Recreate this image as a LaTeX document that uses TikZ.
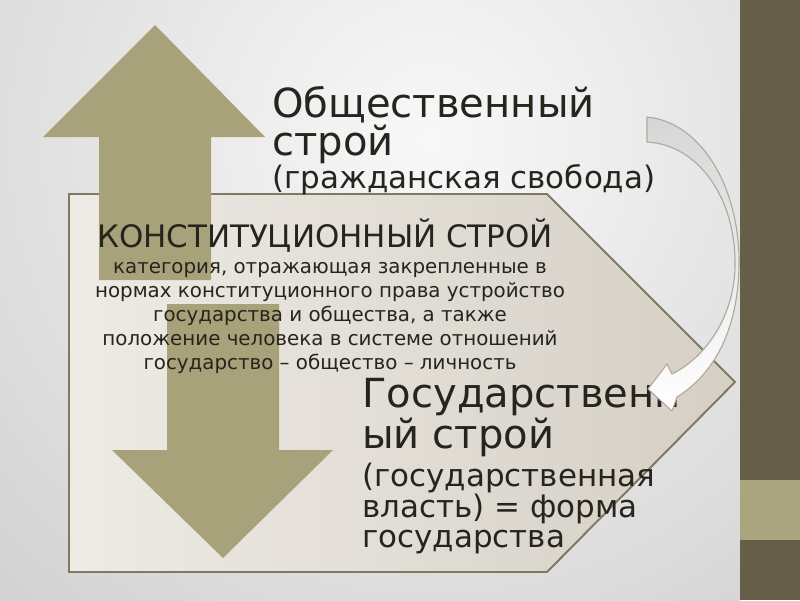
\documentclass[tikz,border=0pt]{standalone}
\usepackage{fontspec}
\setmainfont{DejaVu Sans}
\usetikzlibrary{positioning,calc}
\definecolor{bgIn}{HTML}{F8F8F8}
\definecolor{bgOut}{HTML}{CFCFCF}
\definecolor{stripDark}{HTML}{665E48}
\definecolor{stripLight}{HTML}{A9A57F}
\definecolor{arrowFill}{HTML}{A8A27A}
\definecolor{panelL}{HTML}{EEEBE5}
\definecolor{panelR}{HTML}{D5CFC5}
\definecolor{panelLine}{HTML}{7E7A62}
\definecolor{textDark}{HTML}{26241C}
\definecolor{curveLine}{HTML}{B2A899}
\definecolor{curveTop}{HTML}{D6D6D6}
\tikzstyle{bigtxt}   = [font=\fontsize{28.5}{28.5}\selectfont, text=textDark, inner sep=0pt, anchor=base west]
\tikzstyle{subtxt}   = [font=\fontsize{22}{22}\selectfont, text=textDark, inner sep=0pt, anchor=base west]
\tikzstyle{titletxt} = [font=\fontsize{22}{22}\selectfont, text=textDark, inner sep=0pt, anchor=base]
\tikzstyle{bodytxt}  = [font=\fontsize{14.1}{14.1}\selectfont, text=textDark, inner sep=0pt, anchor=base]
\begin{document}
\begin{tikzpicture}[x=0.025cm, y=-0.025cm,
		blockarrow/.style={fill=arrowFill},
		panel/.style={draw=panelLine, line width=1.4pt, left color=panelL, right color=panelR},
		curvedarrow/.style={draw=curveLine, line width=0.8pt, line join=round, top color=curveTop, bottom color=white}]

	\useasboundingbox (0,0) rectangle (800,600);
	% background and side strip
	\begin{scope}
		\clip (0,0) rectangle (740,600);
		\shade[inner color=bgIn, outer color=bgOut] (430,140) circle[radius=17cm];
	\end{scope}
	\fill[stripDark] (740,0) rectangle (800,600);
	\fill[stripLight] (740,480) rectangle (800,540);

	% panel
	\draw[panel] (69,194) -- (547,194) -- (735,382) -- (547,572) -- (69,572) -- cycle;

	% up and down arrows
	\fill[blockarrow] (155,25) -- (265,137) -- (211,137) -- (211,280) -- (99,280) -- (99,137) -- (43,137) -- cycle;
	\fill[blockarrow] (167,304) -- (279,304) -- (279,450) -- (333,450) -- (223,558) -- (112,450) -- (167,450) -- cycle;

	% texts
	\node[bigtxt] (soc1) at (272,117) {Общественный};
	\node[bigtxt] (soc2) at (272,155) {строй};
	\node[subtxt] (soc3) at (272,188) {(гражданская свобода)};

	\node[titletxt] (title) at (325,247) {КОНСТИТУЦИОННЫЙ СТРОЙ};
	\foreach \line [count=\i] in {{категория, отражающая закрепленные в},
			{нормах конституционного права устройство},
			{государства и общества, а также},
			{положение человека в системе отношений},
			{государство – общество – личность}}
		\node[bodytxt] (def\i) at (330,{273+24*(\i-1)}) {\line};

	\node[bigtxt] (gos1) at (362,407) {Государственн};
	\node[bigtxt] (gos2) at (362,448) {ый строй};
	\node[subtxt] (gos3) at (362,486) {(государственная};
	\node[subtxt] (gos4) at (362,517) {власть) = форма};
	\node[subtxt] (gos5) at (362,547) {государства};

	% curved arrow
	\draw[curvedarrow] (647,117) .. controls (700,122) and (739,185) .. (739,262)
		.. controls (739,320) and (720,370) .. (677,397) -- (672,411) -- (648,389) -- (667,364) -- (672,374)
		.. controls (710,355) and (736,310) .. (735,262)
		.. controls (735,200) and (700,145) .. (647,142) -- cycle;
\end{tikzpicture}
\end{document}
